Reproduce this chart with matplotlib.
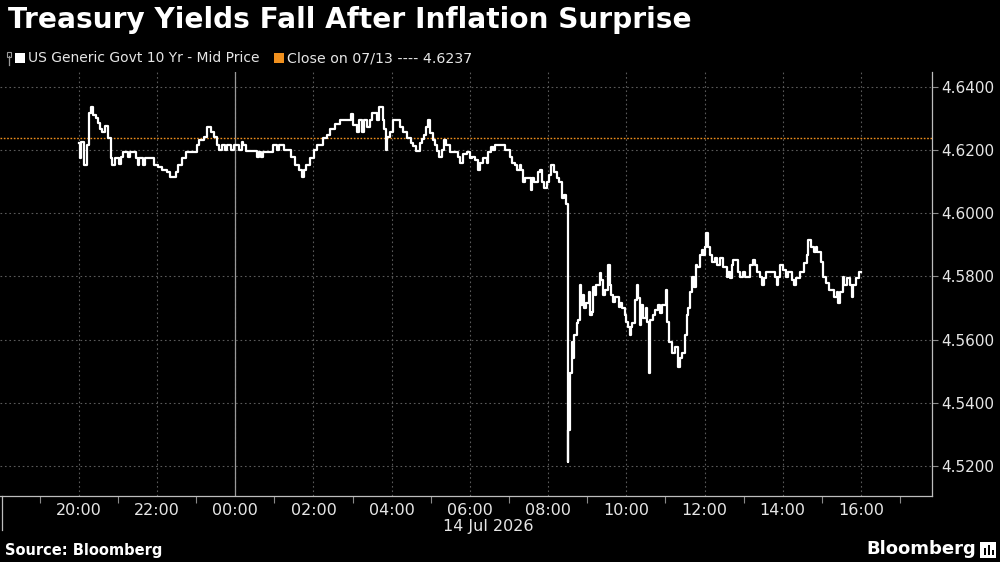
import numpy as np
import pandas as pd
import matplotlib
matplotlib.use("Agg")
import matplotlib.pyplot as plt
import matplotlib.dates as mdates
from matplotlib.patches import Rectangle
from matplotlib.lines import Line2D

# --- data: minutes after 20:00 (13 Jul) where the mid yield changes, and the yield ---
mins = [0, 2, 4, 8, 12, 15, 19, 22, 26, 29, 32, 36, 40, 45, 49, 51, 55, 61, 64, 68,
        76, 79, 87, 90, 93, 99, 101, 116, 122, 128, 136, 140, 149, 152, 159, 165, 181, 184, 192, 197,
        202, 208, 212, 215, 219, 224, 227, 234, 238, 245, 250, 252, 257, 273, 276, 279, 283, 298, 304, 307,
        314, 326, 332, 337, 342, 345, 349, 355, 361, 366, 374, 381, 386, 393, 401, 417, 421, 427, 430, 434,
        437, 442, 446, 450, 457, 461, 466, 468, 471, 473, 477, 482, 493, 498, 503, 509, 513, 518, 523, 527,
        530, 533, 536, 539, 543, 546, 549, 552, 557, 561, 563, 569, 582, 585, 590, 595, 600, 603, 608, 613,
        615, 620, 626, 628, 632, 636, 639, 654, 661, 664, 669, 673, 677, 679, 682, 685, 694, 696, 699, 704,
        707, 710, 714, 718, 721, 725, 729, 733, 737, 741, 745, 748, 750, 751, 753, 756, 758, 760, 764, 766,
        769, 771, 774, 775, 778, 782, 784, 787, 789, 792, 794, 799, 801, 804, 807, 812, 815, 817, 820, 823,
        828, 830, 833, 838, 840, 843, 846, 847, 848, 853, 856, 858, 861, 863, 866, 870, 872, 875, 876, 881,
        884, 889, 892, 894, 901, 903, 906, 910, 915, 920, 922, 926, 930, 933, 935, 938, 941, 944, 947, 949,
        953, 956, 958, 961, 963, 966, 968, 971, 976, 979, 984, 989, 994, 996, 999, 1002, 1004, 1012, 1015, 1019,
        1022, 1030, 1034, 1037, 1041, 1045, 1048, 1051, 1055, 1068, 1071, 1073, 1076, 1081, 1085, 1088, 1094, 1098, 1101, 1106,
        1112, 1117, 1119, 1123, 1128, 1131, 1133, 1138, 1141, 1146, 1151, 1158, 1163, 1165, 1168, 1172, 1174, 1178, 1183, 1186,
        1188, 1193, 1197, 1200]
yields = [4.6222, 4.6174, 4.6226, 4.6152, 4.6216, 4.6316, 4.6337, 4.6311, 4.6300, 4.6284, 4.6268, 4.6258, 4.6277, 4.6237, 4.6174, 4.6152, 4.6174, 4.6155, 4.6179, 4.6195,
          4.6179, 4.6195, 4.6174, 4.6152, 4.6174, 4.6152, 4.6174, 4.6152, 4.6147, 4.6137, 4.6131, 4.6116, 4.6131, 4.6152, 4.6174, 4.6195, 4.6216, 4.6232, 4.6242, 4.6274,
          4.6258, 4.6242, 4.6216, 4.6200, 4.6216, 4.6200, 4.6216, 4.6200, 4.6216, 4.6200, 4.6226, 4.6216, 4.6197, 4.6179, 4.6195, 4.6179, 4.6195, 4.6216, 4.6200, 4.6216,
          4.6200, 4.6179, 4.6152, 4.6137, 4.6116, 4.6137, 4.6152, 4.6174, 4.6200, 4.6216, 4.6237, 4.6247, 4.6268, 4.6281, 4.6295, 4.6313, 4.6279, 4.6258, 4.6295, 4.6258,
          4.6295, 4.6274, 4.6295, 4.6316, 4.6295, 4.6337, 4.6295, 4.6268, 4.6200, 4.6242, 4.6258, 4.6295, 4.6274, 4.6258, 4.6237, 4.6221, 4.6213, 4.6198, 4.6221, 4.6234,
          4.6248, 4.6274, 4.6295, 4.6253, 4.6232, 4.6216, 4.6198, 4.6179, 4.6200, 4.6232, 4.6216, 4.6195, 4.6179, 4.6158, 4.6189, 4.6195, 4.6174, 4.6179, 4.6168, 4.6137,
          4.6158, 4.6174, 4.6158, 4.6195, 4.6211, 4.6200, 4.6216, 4.6200, 4.6179, 4.6158, 4.6153, 4.6137, 4.6153, 4.6137, 4.6100, 4.6110, 4.6073, 4.6110, 4.6100, 4.6131,
          4.6137, 4.6100, 4.6079, 4.6100, 4.6121, 4.6153, 4.6131, 4.6110, 4.6100, 4.6047, 4.6058, 4.6030, 4.5214, 4.5314, 4.5493, 4.5593, 4.5541, 4.5615, 4.5651, 4.5662,
          4.5773, 4.5710, 4.5741, 4.5699, 4.5715, 4.5752, 4.5678, 4.5688, 4.5768, 4.5741, 4.5773, 4.5810, 4.5789, 4.5741, 4.5757, 4.5836, 4.5773, 4.5741, 4.5720, 4.5736,
          4.5704, 4.5715, 4.5699, 4.5678, 4.5657, 4.5641, 4.5615, 4.5641, 4.5651, 4.5725, 4.5773, 4.5731, 4.5646, 4.5710, 4.5668, 4.5699, 4.5657, 4.5493, 4.5662, 4.5678,
          4.5694, 4.5710, 4.5683, 4.5710, 4.5757, 4.5657, 4.5593, 4.5557, 4.5578, 4.5514, 4.5541, 4.5557, 4.5615, 4.5678, 4.5699, 4.5752, 4.5799, 4.5768, 4.5836, 4.5831,
          4.5868, 4.5884, 4.5868, 4.5894, 4.5936, 4.5894, 4.5868, 4.5847, 4.5857, 4.5836, 4.5857, 4.5831, 4.5799, 4.5815, 4.5794, 4.5836, 4.5852, 4.5815, 4.5799, 4.5815,
          4.5799, 4.5836, 4.5852, 4.5836, 4.5815, 4.5799, 4.5773, 4.5794, 4.5815, 4.5799, 4.5773, 4.5799, 4.5836, 4.5820, 4.5799, 4.5815, 4.5789, 4.5773, 4.5794, 4.5815,
          4.5841, 4.5868, 4.5915, 4.5894, 4.5878, 4.5894, 4.5878, 4.5847, 4.5799, 4.5778, 4.5757, 4.5736, 4.5752, 4.5715, 4.5752, 4.5799, 4.5773, 4.5794, 4.5773, 4.5736,
          4.5773, 4.5794, 4.5815, 4.5815]

prev_close = 4.6237
y_ticks = [4.52, 4.54, 4.56, 4.58, 4.60, 4.62, 4.64]
# labelled hours, counted from 20:00 on 13 Jul
x_tick_hours = [0, 2, 4, 6, 8, 10, 12, 14, 16, 18, 20]

title = "Treasury Yields Fall After Inflation Surprise"
series_name = "US Generic Govt 10 Yr - Mid Price"
close_name = "Close on 07/13 ---- 4.6237"
date_label = "14 Jul 2026"

start = pd.Timestamp("2026-07-13 20:00")
times = start + pd.to_timedelta(mins, unit="m")
x_ticks = [start + pd.Timedelta(hours=h) for h in x_tick_hours]

grey = "#5a5a5a"
txt = "#e6e6e6"
orange = "#f0901e"

fig = plt.figure(figsize=(10, 5.62), dpi=100, facecolor="black")
ax = fig.add_axes([0.0, 66 / 562, 0.932, 424 / 562])
ax.set_facecolor("black")

# gridlines
ax.grid(True, which="major", axis="both", color=grey, linestyle=(0, (1.5, 2.5)), linewidth=0.8)
ax.axvline(start + pd.Timedelta(hours=4), color="#9a9a9a", linewidth=0.9)  # midnight

# previous close
ax.axhline(prev_close, color=orange, linestyle=(0, (1.2, 1.2)), linewidth=1.0)

# yield series
ax.step(times, yields, where="post", color="white", linewidth=1.6)

ax.set_xlim(start - pd.Timedelta(minutes=121), start + pd.Timedelta(minutes=1309))
ax.set_ylim(4.5105, 4.6447)

ax.set_xticks(x_ticks)
ax.xaxis.set_minor_locator(mdates.HourLocator(byhour=range(1, 24, 2)))
ax.xaxis.set_major_formatter(mdates.DateFormatter("%H:%M"))
ax.tick_params(axis="x", which="major", length=0, pad=5, labelsize=11.5, labelcolor=txt)
ax.tick_params(axis="x", which="minor", length=5, color="#8a8a8a", width=0.8)

ax.yaxis.tick_right()
ax.set_yticks(y_ticks)
ax.yaxis.set_major_formatter(plt.FuncFormatter(lambda v, p: f"{v:.4f}"))
ax.tick_params(axis="y", length=4, color="#8a8a8a", width=0.8, pad=3, labelsize=11, labelcolor=txt)

for s in ["top", "left"]:
    ax.spines[s].set_visible(False)
ax.spines["right"].set_color("#bdbdbd")
ax.spines["bottom"].set_color("#bdbdbd")
ax.spines["right"].set_linewidth(0.9)
ax.spines["bottom"].set_linewidth(0.9)

# short left edge line below the axis
fig.add_artist(Line2D([0.0015, 0.0015], [1 - 530 / 562, 66 / 562], color="#bdbdbd", linewidth=0.9))

fig.text(0.4885, 1 - 527 / 562, date_label, color=txt, fontsize=11.5, ha="center", va="center")

# title
fig.text(0.008, 1 - 20 / 562, title, color="white", fontsize=20.2, fontweight="bold", ha="left", va="center")

# legend
ly = 1 - 58 / 562
fig.add_artist(Line2D([0.0085, 0.0085], [ly - 0.012, ly + 0.004], color="#9a9a9a", linewidth=0.9))
fig.add_artist(Rectangle((0.007, ly + 0.002), 0.004, 0.008, facecolor="none", edgecolor="#9a9a9a", linewidth=0.8))
fig.add_artist(Rectangle((0.015, ly - 0.0089), 0.0095, 0.0178, facecolor="white", edgecolor="none"))
fig.text(0.028, ly, series_name, color=txt, fontsize=10, ha="left", va="center")
fig.add_artist(Rectangle((0.274, ly - 0.0089), 0.0095, 0.0178, facecolor=orange, edgecolor="none"))
fig.text(0.287, ly, close_name, color=txt, fontsize=10.2, ha="left", va="center")

# footer
fig.text(0.005, 1 - 550 / 562, "Source: Bloomberg", color="white", fontsize=10.5, fontweight="bold", ha="left", va="center")
fig.text(0.976, 1 - 549 / 562, "Bloomberg", color="white", fontsize=13, fontweight="bold", ha="right", va="center")
fig.add_artist(Rectangle((0.980, 1 - 558 / 562), 0.016, 0.029, facecolor="white", edgecolor="none"))
for bx, bh in [(0.9835, 0.012), (0.9875, 0.018), (0.9915, 0.009)]:
    fig.add_artist(Rectangle((bx, 1 - 555 / 562), 0.0022, bh, facecolor="black", edgecolor="none"))

fig.savefig("out.png", dpi=100, facecolor="black")
